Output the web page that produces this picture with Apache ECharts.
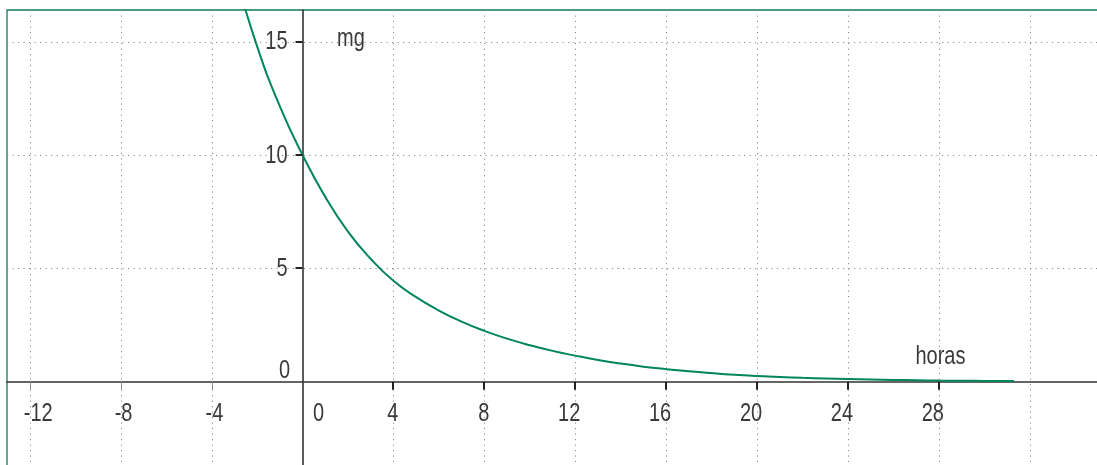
<!DOCTYPE html>
<html>
<head>
<meta charset="utf-8">
<script src="https://cdn.jsdelivr.net/npm/echarts@6/dist/echarts.min.js"></script>
<style>
html,body{margin:0;padding:0;background:#fff;}
#chart{width:1097px;height:465px;}
</style>
</head>
<body>
<div id="chart"></div>
<script>
// ---- data ----
const hours = [-3, -2, -1, 0, 1, 2, 3, 4, 5, 6, 7, 8, 9, 10, 11, 12, 13, 14, 15, 16, 17, 18, 19, 20, 21, 22, 23, 24, 25, 26, 27, 28, 29, 30, 31.3];
const mg    = [18.1, 14.8, 12.15, 10, 8.15, 6.62, 5.42, 4.45, 3.73, 3.14, 2.65, 2.24, 1.9, 1.61, 1.36, 1.15, 0.96, 0.8, 0.665, 0.555, 0.46, 0.38, 0.31, 0.255, 0.21, 0.17, 0.14, 0.115, 0.095, 0.078, 0.064, 0.052, 0.043, 0.035, 0.027];

const xGridValues  = [-12, -8, -4, 4, 8, 12, 16, 20, 24, 28, 32];
const yGridValues  = [5, 10, 15];
const xTickValues  = [-12, -8, -4, 4, 8, 12, 16, 20, 24, 28];
const yTickValues  = [5, 10, 15];
const xLabelValues = [-12, -8, -4, 0, 4, 8, 12, 16, 20, 24, 28];
const xLabelTexts  = ['-12', '-8', '-4', '0', '4', '8', '12', '16', '20', '24', '28'];
const yLabelValues = [0, 5, 10, 15];
const yLabelTexts  = ['0', '5', '10', '15'];
const xName = 'horas';
const yName = 'mg';

const FONT = "'Liberation Sans', Arial, sans-serif";
const FS = 25;
const SX = 0.8;
const TEXT = '#3a3a3a';
const GREEN = '#00855f';
const GRIDC = '#8c8c8c';
const X_MIN = -13.0, X_MAX = 35.04, Y_MIN = -3.76, Y_MAX = 16.39;

const chart = echarts.init(document.getElementById('chart'), null, {renderer: 'canvas'});

function txt(text, x, y, align) {
  return {type: 'text', silent: true, x: x, y: y, scaleX: SX, scaleY: 1,
    style: {text: text, fill: TEXT, fontSize: FS, fontFamily: FONT, align: align, verticalAlign: 'middle'}};
}
function vGrid(params, api) {
  const cs = params.coordSys;
  const x = Math.round(api.coord([api.value(0), 0])[0]) + 0.5;
  return {type: 'line', silent: true,
    shape: {x1: x, y1: cs.y, x2: x, y2: cs.y + cs.height},
    style: {stroke: GRIDC, lineWidth: 1, lineDash: [1.2, 4.3]}};
}
function hGrid(params, api) {
  const cs = params.coordSys;
  const y = Math.round(api.coord([0, api.value(1)])[1]) + 0.5;
  return {type: 'line', silent: true,
    shape: {x1: cs.x, y1: y, x2: cs.x + cs.width, y2: y},
    style: {stroke: GRIDC, lineWidth: 1, lineDash: [1.2, 4.3]}};
}
function xTick(params, api) {
  const v = api.value(0);
  const p = api.coord([v, 0]);
  const neg = v < 0;
  const x = neg ? Math.round(p[0]) + 0.5 : Math.round(p[0]);
  return {type: 'line', silent: true,
    shape: {x1: x, y1: p[1], x2: x, y2: p[1] + 8},
    style: {stroke: neg ? '#8a8a8a' : '#222', lineWidth: neg ? 1 : 2}};
}
function yTick(params, api) {
  const p = api.coord([0, api.value(1)]);
  const y = Math.round(p[1]);
  return {type: 'line', silent: true,
    shape: {x1: p[0] - 7, y1: y, x2: p[0], y2: y},
    style: {stroke: '#222', lineWidth: 2}};
}
function xLabel(params, api) {
  const v = api.value(0);
  const p = api.coord([v, 0]);
  let align = 'right', dx = 5;
  if (v < 0) { align = 'left'; dx = -6; }
  else if (v === 0) { align = 'left'; dx = 10.5; }
  return txt(xLabelTexts[params.dataIndex], p[0] + dx, p[1] + 32, align);
}
function yLabel(params, api) {
  const v = api.value(1);
  const p = api.coord([0, v]);
  const dy = v === 0 ? -11 : 1;
  const dx = v === 0 ? -12.5 : -15;
  return txt(yLabelTexts[params.dataIndex], p[0] + dx, p[1] + dy, 'right');
}
function yNameItem(params, api) {
  const p = api.coord([0, Y_MAX]);
  return txt(yName, p[0] + 34.5, p[1] + 29, 'left');
}
function xNameItem(params, api) {
  const p = api.coord([api.value(0), 0]);
  return txt(xName, p[0] + 1.5, p[1] - 25, 'center');
}

const option = {
  animation: false,
  backgroundColor: '#ffffff',
  grid: {
    left: 7, top: 10, right: -2, bottom: -2,
    show: true, borderColor: '#137a58', borderWidth: 1.3, backgroundColor: 'transparent',
    containLabel: false, outerBoundsMode: 'none'
  },
  xAxis: {
    type: 'value', min: X_MIN, max: X_MAX,
    axisLine: {show: true, onZero: true, lineStyle: {color: '#333', width: 1.6}},
    axisTick: {show: false}, axisLabel: {show: false}, splitLine: {show: false}
  },
  yAxis: {
    type: 'value', min: Y_MIN, max: Y_MAX,
    axisLine: {show: true, onZero: true, lineStyle: {color: '#333', width: 1.6}},
    axisTick: {show: false}, axisLabel: {show: false}, splitLine: {show: false}
  },
  series: [
    {type: 'custom', name: 'vgrid', z: 1, renderItem: vGrid, data: xGridValues.map(v => [v, 0]), encode: {x: 0, y: 1}},
    {type: 'custom', name: 'hgrid', z: 1, renderItem: hGrid, data: yGridValues.map(v => [0, v]), encode: {x: 0, y: 1}},
    {type: 'line', name: 'mg', z: 3, smooth: true, showSymbol: false, symbol: 'none', clip: true,
      lineStyle: {color: GREEN, width: 2}, itemStyle: {color: GREEN},
      data: hours.map((h, i) => [h, mg[i]])},
    {type: 'custom', name: 'xticks', z: 4, renderItem: xTick, data: xTickValues.map(v => [v, 0]), encode: {x: 0, y: 1}},
    {type: 'custom', name: 'yticks', z: 4, renderItem: yTick, data: yTickValues.map(v => [0, v]), encode: {x: 0, y: 1}},
    {type: 'custom', name: 'xlabels', z: 5, renderItem: xLabel, data: xLabelValues.map(v => [v, 0]), encode: {x: 0, y: 1}},
    {type: 'custom', name: 'ylabels', z: 5, renderItem: yLabel, data: yLabelValues.map(v => [0, v]), encode: {x: 0, y: 1}},
    {type: 'custom', name: 'yname', z: 5, renderItem: yNameItem, data: [[0, Y_MAX]], encode: {x: 0, y: 1}},
    {type: 'custom', name: 'xname', z: 5, renderItem: xNameItem, data: [[xLabelValues[xLabelValues.length - 1], 0]], encode: {x: 0, y: 1}}
  ]
};
chart.setOption(option);
</script>
</body>
</html>
